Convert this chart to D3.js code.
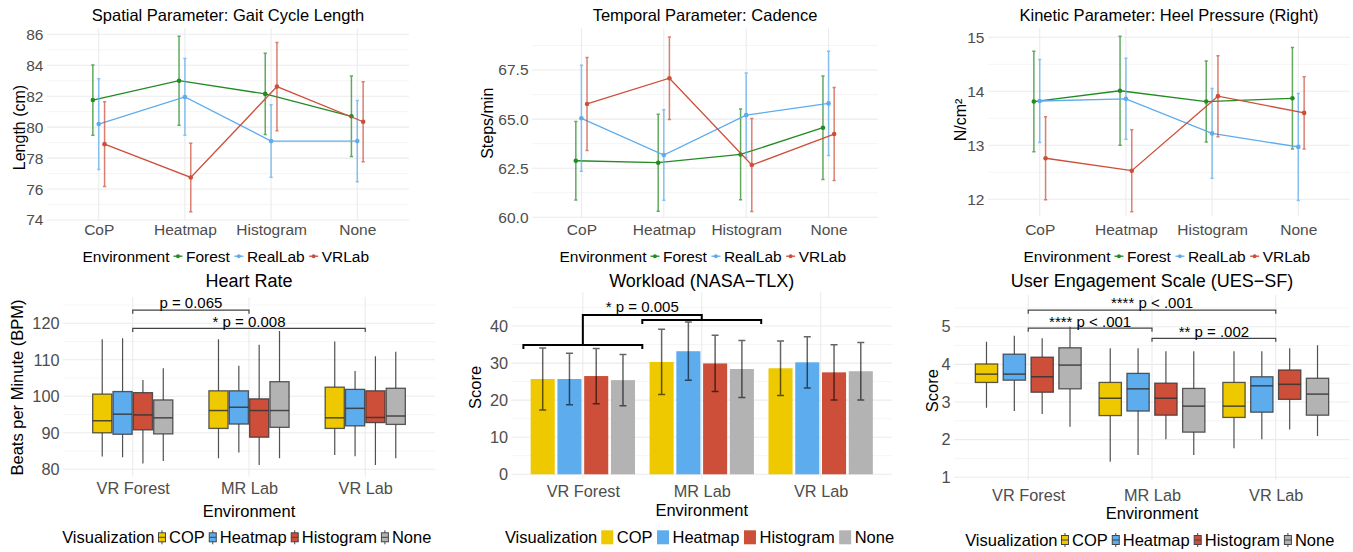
<!DOCTYPE html>
<html>
<head>
<meta charset="utf-8">
<script src="https://cdn.jsdelivr.net/npm/d3@7"></script>
<style>
body { margin: 0; background: #fff; }
svg { font-family: "Liberation Sans", Arial, sans-serif; }
.grid-major { stroke: #ebebeb; stroke-width: 1.1; }
.grid-minor { stroke: #f3f3f3; stroke-width: 0.8; }
</style>
</head>
<body>
<svg id="chart" width="1353" height="552"></svg>
<script>
// ---- top row: means and error half-widths per environment ----
var visCats = ["CoP", "Heatmap", "Histogram", "None"];
var envNames = ["Forest", "RealLab", "VRLab"];

var gaitForest = [81.75, 83.0, 82.15, 80.7];
var gaitForestErr = [2.27, 2.88, 2.62, 2.6];
var gaitRealLab = [80.2, 81.95, 79.1, 79.1];
var gaitRealLabErr = [2.93, 2.48, 2.34, 2.63];
var gaitVRLab = [78.9, 76.75, 82.62, 80.35];
var gaitVRLabErr = [2.74, 2.21, 2.85, 2.58];
var gaitTicks = [74, 76, 78, 80, 82, 84, 86];

var cadForest = [62.88, 62.78, 63.2, 64.56];
var cadForestErr = [2.0, 2.47, 2.31, 2.63];
var cadRealLab = [65.04, 63.17, 65.2, 65.8];
var cadRealLabErr = [2.7, 2.3, 2.15, 2.65];
var cadVRLab = [65.77, 67.08, 62.66, 64.24];
var cadVRLabErr = [2.37, 2.1, 2.37, 2.37];
var cadTicks = [60, 62.5, 65, 67.5];

var heelForest = [13.81, 14.01, 13.81, 13.87];
var heelForestErr = [0.93, 1.01, 0.75, 0.94];
var heelRealLab = [13.82, 13.86, 13.22, 12.97];
var heelRealLabErr = [0.77, 0.75, 0.83, 0.99];
var heelVRLab = [12.76, 12.53, 13.91, 13.6];
var heelVRLabErr = [0.77, 0.76, 0.75, 0.67];
var heelTicks = [12, 13, 14, 15];

// ---- bottom row ----
var envCats = ["VR Forest", "MR Lab", "VR Lab"];
var vizNames = ["COP", "Heatmap", "Histogram", "None"];

// boxes: [lower whisker, q1, median, q3, upper whisker] for each environment
var hrCOP = [[83.5, 90.0, 93.3, 100.6, 115.6], [83.0, 91.2, 96.1, 101.5, 115.6], [83.9, 91.2, 94.1, 102.5, 115.0]];
var hrHeatmap = [[83.3, 89.6, 95.1, 101.3, 115.9], [84.6, 92.4, 97.0, 101.5, 108.4], [83.6, 91.9, 96.7, 101.9, 106.9]];
var hrHistogram = [[81.6, 90.8, 94.9, 101.0, 104.5], [81.2, 88.8, 96.1, 99.3, 114.1], [81.2, 92.8, 94.2, 101.5, 111.0]];
var hrNone = [[82.3, 89.7, 94.1, 99.0, 107.7], [83.0, 91.5, 96.1, 104.0, 117.9], [83.0, 92.3, 94.6, 102.2, 112.2]];
var hrTicks = [80, 90, 100, 110, 120];
var hrSigLabels = ["p = 0.065", "* p = 0.008"];
var hrSigFrom = ["VR Forest", "VR Forest"];
var hrSigTo = ["MR Lab", "VR Lab"];
var hrSigLevel = [123.6, 118.6];

var wlCOP = [25.7, 30.3, 28.6];
var wlCOPErr = [8.35, 8.8, 7.35];
var wlHeatmap = [25.7, 33.2, 30.2];
var wlHeatmapErr = [6.95, 7.85, 6.9];
var wlHistogram = [26.5, 29.9, 27.5];
var wlHistogramErr = [7.45, 7.6, 7.45];
var wlNone = [25.4, 28.4, 27.8];
var wlNoneErr = [6.9, 7.7, 7.75];
var wlTicks = [0, 10, 20, 30, 40];
var wlSigLabel = "* p = 0.005";
var wlSigLevels = [34.85, 41.6, 43.0]; // left group, right group, connector

var uesCOP = [[2.85, 3.52, 3.74, 4.01, 4.60], [1.41, 2.64, 3.10, 3.52, 4.43], [1.77, 2.59, 2.89, 3.52, 4.35]];
var uesHeatmap = [[2.76, 3.58, 3.74, 4.27, 4.76], [1.59, 2.76, 3.35, 3.76, 4.43], [2.01, 2.73, 3.43, 3.67, 4.35]];
var uesHistogram = [[2.68, 3.26, 3.67, 4.19, 4.69], [2.01, 2.65, 3.10, 3.50, 4.35], [2.27, 3.07, 3.47, 3.85, 4.43]];
var uesNone = [[2.34, 3.35, 3.98, 4.44, 5.0], [1.59, 2.20, 2.89, 3.36, 4.35], [2.10, 2.65, 3.21, 3.63, 4.51]];
var uesTicks = [1, 2, 3, 4, 5];
var uesSigLabels = ["**** p < .001", "**** p < .001", "** p = .002"];
var uesSigFrom = ["VR Forest", "VR Forest", "MR Lab"];
var uesSigTo = ["VR Lab", "MR Lab", "VR Lab"];
var uesSigLevel = [5.44, 4.96, 4.69];

// styles
var envColors = {Forest: "#228B22", RealLab: "#5CACEE", VRLab: "#CD4F39"};
var vizColors = {COP: "#EEC900", Heatmap: "#5CACEE", Histogram: "#CD4F39", None: "#B3B3B3"};

var svg = d3.select("#chart");

function midTicks(ticks) {
    var out = [];
    for (var i = 0; i < ticks.length - 1; i++) out.push((ticks[i] + ticks[i + 1]) / 2);
    return out;
}

function drawGrid(g, p, xs, ys) {
    var minor = midTicks(p.ticks);
    if (p.extraMinor) minor = minor.concat(p.extraMinor);
    g.selectAll(null).data(minor).enter().append("line")
        .attr("class", "grid-minor")
        .attr("x1", p.x0).attr("x2", p.x1)
        .attr("y1", function (d) { return ys(d); }).attr("y2", function (d) { return ys(d); });
    g.selectAll(null).data(p.ticks).enter().append("line")
        .attr("class", "grid-major")
        .attr("x1", p.x0).attr("x2", p.x1)
        .attr("y1", function (d) { return ys(d); }).attr("y2", function (d) { return ys(d); });
    g.selectAll(null).data(xs.domain()).enter().append("line")
        .attr("class", "grid-major")
        .attr("x1", function (d) { return xs(d); }).attr("x2", function (d) { return xs(d); })
        .attr("y1", ys(p.lim[0])).attr("y2", ys(p.lim[1]));
}

function drawAxes(g, p, xs, ys, fs) {
    var ya = g.append("g").attr("transform", "translate(" + p.x0 + ",0)")
        .call(d3.axisLeft(ys).tickValues(p.ticks).tickSize(0).tickPadding(3.5).tickFormat(p.fmt || d3.format("")));
    ya.select(".domain").remove();
    ya.attr("font-family", null).attr("font-size", null);
    ya.selectAll("text").style("font-size", fs + "px").attr("fill", "#4d4d4d");

    var xa = g.append("g").attr("transform", "translate(0," + p.xLabelY + ")")
        .call(d3.axisBottom(xs).tickSize(0));
    xa.select(".domain").remove();
    xa.attr("font-family", null).attr("font-size", null);
    xa.selectAll("text").attr("y", 0).attr("dy", null)
        .style("font-size", fs + "px").attr("fill", "#4d4d4d");
}

function drawTitles(g, p, cx, titleFs, axisFs) {
    g.append("text").attr("x", cx).attr("y", p.titleY).attr("text-anchor", "middle")
        .style("font-size", titleFs + "px").text(p.title);
    g.append("text").attr("text-anchor", "middle")
        .attr("transform", "translate(" + p.yTitleX + "," + p.yTitleY + ") rotate(-90)")
        .style("font-size", axisFs + "px").text(p.yTitle);
    if (p.xTitle) {
        g.append("text").attr("x", cx).attr("y", p.xTitleY).attr("text-anchor", "middle")
            .style("font-size", axisFs + "px").text(p.xTitle);
    }
}

function drawLegend(g, cx, baseline, fs, title, names, keyW, keyFn) {
    var lg = g.append("g");
    var t = lg.append("text").attr("x", 0).attr("y", baseline).style("font-size", fs + "px").text(title);
    var x = t.node().getComputedTextLength() + 4;
    names.forEach(function (n) {
        keyFn(lg, x, baseline, n);
        x += keyW + 3.5;
        var lt = lg.append("text").attr("x", x).attr("y", baseline).style("font-size", fs + "px").text(n);
        x += lt.node().getComputedTextLength() + 4.5;
    });
    lg.attr("transform", "translate(" + (cx - x / 2) + ",0)");
}

// ---------- line + error bar panels ----------
function linePanel(p, series) {
    var g = svg.append("g");
    var xs = d3.scalePoint().domain(visCats).range([p.x0, p.x1]).padding(0.6);
    var ys = d3.scaleLinear().domain(p.tickDomain).range(p.tickRange);
    drawGrid(g, p, xs, ys);
    drawAxes(g, p, xs, ys, 15.5);
    var cx = (p.x0 + p.x1) / 2;
    drawTitles(g, p, cx, 16.5, 16);

    var dodge = xs.step() * 0.068;
    series.forEach(function (s, si) {
        var off = (si - 1) * dodge;
        var pts = visCats.map(function (c, i) { return {x: xs(c) + off, m: s.mean[i], e: s.err[i]}; });
        var col = envColors[s.name];
        var sg = g.append("g");
        sg.selectAll(null).data(pts).enter().append("path")
            .attr("d", function (d) {
                var y1 = ys(d.m + d.e), y2 = ys(d.m - d.e);
                return "M" + d.x + "," + y1 + "V" + y2 +
                    "M" + (d.x - 1.6) + "," + y1 + "h3.2M" + (d.x - 1.6) + "," + y2 + "h3.2";
            })
            .attr("stroke", col).attr("stroke-width", 1.5).attr("stroke-opacity", 0.72).attr("fill", "none");
        sg.append("path").datum(pts)
            .attr("d", d3.line().x(function (d) { return d.x; }).y(function (d) { return ys(d.m); }))
            .attr("stroke", col).attr("stroke-width", 1.3).attr("fill", "none");
        sg.selectAll(null).data(pts).enter().append("circle")
            .attr("cx", function (d) { return d.x; }).attr("cy", function (d) { return ys(d.m); })
            .attr("r", 2.3).attr("fill", col);
    });

    drawLegend(g, cx, p.legendY, 15.5, "Environment", envNames, 9, function (lg, x, b, n) {
        lg.append("line").attr("x1", x).attr("x2", x + 9).attr("y1", b - 5.5).attr("y2", b - 5.5)
            .attr("stroke", envColors[n]).attr("stroke-width", 1.3);
        lg.append("circle").attr("cx", x + 4.5).attr("cy", b - 5.5).attr("r", 2).attr("fill", envColors[n]);
    });
}

// ---------- box plot panels ----------
function sigBrackets(g, xs, ys, labels, from, to, level) {
    labels.forEach(function (lab, i) {
        var x1 = xs(from[i]), x2 = xs(to[i]), y = ys(level[i]);
        g.append("path").attr("d", "M" + x1 + "," + (y + 3.5) + "V" + y + "H" + x2 + "V" + (y + 3.5))
            .attr("stroke", "#444").attr("stroke-width", 1.2).attr("fill", "none");
        g.append("text").attr("x", (x1 + x2) / 2).attr("y", y - 1.7).attr("text-anchor", "middle")
            .style("font-size", "15px").text(lab);
    });
}

function boxKey(lg, x, b, n) {
    var cy = b - 6;
    lg.append("line").attr("x1", x + 3.5).attr("x2", x + 3.5).attr("y1", cy - 7).attr("y2", cy + 7)
        .attr("stroke", "#444").attr("stroke-width", 1);
    lg.append("rect").attr("x", x).attr("y", cy - 4.5).attr("width", 7).attr("height", 9)
        .attr("fill", vizColors[n]).attr("stroke", "#444").attr("stroke-width", 1);
    lg.append("line").attr("x1", x).attr("x2", x + 7).attr("y1", cy).attr("y2", cy)
        .attr("stroke", "#444").attr("stroke-width", 1);
}

function boxPanel(p, boxes) {
    var g = svg.append("g");
    var xs = d3.scalePoint().domain(envCats).range([p.x0, p.x1]).padding(0.6);
    var ys = d3.scaleLinear().domain(p.tickDomain).range(p.tickRange);
    drawGrid(g, p, xs, ys);
    drawAxes(g, p, xs, ys, 16.3);
    var cx = (p.x0 + p.x1) / 2;
    drawTitles(g, p, cx, 18, 16.5);

    var tot = xs.step() * p.dodge;
    var inner = d3.scaleBand().domain(vizNames).range([-tot / 2, tot / 2])
        .paddingInner(1 - p.boxFrac).paddingOuter((1 - p.boxFrac) / 2);
    var bw = inner.bandwidth();

    vizNames.forEach(function (v, vi) {
        var bg = g.append("g");
        var data = envCats.map(function (e, i) {
            var b = boxes[vi][i];
            return {x: xs(e) + inner(v), lo: b[0], q1: b[1], med: b[2], q3: b[3], hi: b[4]};
        });
        bg.selectAll(null).data(data).enter().append("path")
            .attr("d", function (d) {
                var mx = d.x + bw / 2;
                return "M" + mx + "," + ys(d.hi) + "V" + ys(d.q3) + "M" + mx + "," + ys(d.q1) + "V" + ys(d.lo);
            })
            .attr("stroke", "#333").attr("stroke-opacity", 0.85).attr("stroke-width", 1.2);
        bg.selectAll(null).data(data).enter().append("rect")
            .attr("x", function (d) { return d.x; }).attr("width", bw)
            .attr("y", function (d) { return ys(d.q3); })
            .attr("height", function (d) { return ys(d.q1) - ys(d.q3); })
            .attr("fill", vizColors[v]).attr("stroke", "#333").attr("stroke-opacity", 0.8).attr("stroke-width", 1.3);
        bg.selectAll(null).data(data).enter().append("line")
            .attr("x1", function (d) { return d.x; }).attr("x2", function (d) { return d.x + bw; })
            .attr("y1", function (d) { return ys(d.med); }).attr("y2", function (d) { return ys(d.med); })
            .attr("stroke", "#333").attr("stroke-opacity", 0.85).attr("stroke-width", 1.5);
    });

    sigBrackets(g, xs, ys, p.sigLabels, p.sigFrom, p.sigTo, p.sigLevel);
    drawLegend(g, cx, p.legendY, 16.5, "Visualization", vizNames, 7, boxKey);
}

// ---------- bar panel ----------
function barPanel(p, means, errs) {
    var g = svg.append("g");
    var xs = d3.scalePoint().domain(envCats).range([p.x0, p.x1]).padding(0.6);
    var ys = d3.scaleLinear().domain(p.tickDomain).range(p.tickRange);
    drawGrid(g, p, xs, ys);
    drawAxes(g, p, xs, ys, 16.3);
    var cx = (p.x0 + p.x1) / 2;
    drawTitles(g, p, cx, 18, 16.5);

    var tot = xs.step() * 0.9;
    var inner = d3.scaleBand().domain(vizNames).range([-tot / 2, tot / 2]).paddingInner(0.1).paddingOuter(0.05);
    var bw = inner.bandwidth();

    vizNames.forEach(function (v, vi) {
        var data = envCats.map(function (e, i) { return {x: xs(e) + inner(v), m: means[vi][i], e: errs[vi][i]}; });
        g.selectAll(null).data(data).enter().append("rect")
            .attr("x", function (d) { return d.x; }).attr("width", bw)
            .attr("y", function (d) { return ys(d.m); })
            .attr("height", function (d) { return ys(0) - ys(d.m); })
            .attr("fill", vizColors[v]);
    });
    vizNames.forEach(function (v, vi) {
        var data = envCats.map(function (e, i) { return {x: xs(e) + inner(v) + bw / 2, m: means[vi][i], e: errs[vi][i]}; });
        g.selectAll(null).data(data).enter().append("path")
            .attr("d", function (d) {
                var y1 = ys(d.m + d.e), y2 = ys(d.m - d.e);
                return "M" + d.x + "," + y1 + "V" + y2 +
                    "M" + (d.x - 3.5) + "," + y1 + "h7M" + (d.x - 3.5) + "," + y2 + "h7";
            })
            .attr("stroke", "#000").attr("stroke-opacity", 0.6).attr("stroke-width", 1.5).attr("fill", "none");
    });

    // grouped bracket between VR Forest and MR Lab
    var half = xs.step() / 2;
    var a = xs(envCats[0]), b = xs(envCats[1]);
    var yL = ys(wlSigLevels[0]), yR = ys(wlSigLevels[1]), yT = ys(wlSigLevels[2]);
    var br = "M" + (a - half) + "," + (yL + 4) + "V" + yL + "H" + (a + half) + "V" + (yL + 4) +
        "M" + (b - half) + "," + (yR + 4) + "V" + yR + "H" + (b + half) + "V" + (yR + 4) +
        "M" + a + "," + yL + "V" + yT + "H" + b + "V" + yR;
    g.append("path").attr("d", br).attr("stroke", "#000").attr("stroke-width", 2).attr("fill", "none");
    g.append("text").attr("x", (a + b) / 2).attr("y", yT - 3.3).attr("text-anchor", "middle")
        .style("font-size", "15px").text(wlSigLabel);

    drawLegend(g, cx, p.legendY, 16.5, "Visualization", vizNames, 12, function (lg, x, bl, n) {
        lg.append("rect").attr("x", x).attr("y", bl - 13).attr("width", 12).attr("height", 14).attr("fill", vizColors[n]);
    });
}

linePanel({
    x0: 47, x1: 409, ticks: gaitTicks, tickDomain: [74, 86], tickRange: [220, 34.3], lim: [73.98, 86.39],
    xLabelY: 235, title: "Spatial Parameter: Gait Cycle Length", titleY: 20.7,
    yTitle: "Length (cm)", yTitleX: 25, yTitleY: 127.5, legendY: 261.7
}, [
    {name: "Forest", mean: gaitForest, err: gaitForestErr},
    {name: "RealLab", mean: gaitRealLab, err: gaitRealLabErr},
    {name: "VRLab", mean: gaitVRLab, err: gaitVRLabErr}
]);

linePanel({
    x0: 532, x1: 878, ticks: cadTicks, tickDomain: [60, 67.5], tickRange: [217.3, 70], lim: [59.95, 69.62],
    extraMinor: [68.75], fmt: d3.format(".1f"),
    xLabelY: 235, title: "Temporal Parameter: Cadence", titleY: 20.7,
    yTitle: "Steps/min", yTitleX: 493, yTitleY: 123.3, legendY: 261.7
}, [
    {name: "Forest", mean: cadForest, err: cadForestErr},
    {name: "RealLab", mean: cadRealLab, err: cadRealLabErr},
    {name: "VRLab", mean: cadVRLab, err: cadVRLabErr}
]);

linePanel({
    x0: 988, x1: 1350, ticks: heelTicks, tickDomain: [12, 15], tickRange: [199.3, 37.3], lim: [11.68, 15.17],
    xLabelY: 235, title: "Kinetic Parameter: Heel Pressure (Right)", titleY: 20.7,
    yTitle: "N/cm²", yTitleX: 965.5, yTitleY: 120, legendY: 261.7
}, [
    {name: "Forest", mean: heelForest, err: heelForestErr},
    {name: "RealLab", mean: heelRealLab, err: heelRealLabErr},
    {name: "VRLab", mean: heelVRLab, err: heelVRLabErr}
]);

boxPanel({
    x0: 63, x1: 435, ticks: hrTicks, tickDomain: [80, 120], tickRange: [469.3, 323.3], lim: [78, 127.2],
    extraMinor: [125], dodge: 0.7, boxFrac: 0.94,
    xLabelY: 494, title: "Heart Rate", titleY: 286.7, yTitle: "Beats per Minute (BPM)", yTitleX: 23.3, yTitleY: 387.5,
    xTitle: "Environment", xTitleY: 516.7, legendY: 543.3,
    sigLabels: hrSigLabels, sigFrom: hrSigFrom, sigTo: hrSigTo, sigLevel: hrSigLevel
}, [hrCOP, hrHeatmap, hrHistogram, hrNone]);

barPanel({
    x0: 511.5, x1: 892, ticks: wlTicks, tickDomain: [0, 40], tickRange: [474.3, 326], lim: [-1.1, 49.2],
    extraMinor: [45],
    xLabelY: 496.7, title: "Workload (NASA\u2212TLX)", titleY: 286.7, yTitle: "Score", yTitleX: 481, yTitleY: 387.5,
    xTitle: "Environment", xTitleY: 516, legendY: 543.3
}, [wlCOP, wlHeatmap, wlHistogram, wlNone], [wlCOPErr, wlHeatmapErr, wlHistogramErr, wlNoneErr]);

boxPanel({
    x0: 954, x1: 1350, ticks: uesTicks, tickDomain: [1, 5], tickRange: [477.3, 326.7], lim: [0.93, 5.84],
    extraMinor: [5.5], dodge: 0.9, boxFrac: 0.8,
    xLabelY: 500.7, title: "User Engagement Scale (UES\u2212SF)", titleY: 287, yTitle: "Score", yTitleX: 937.7, yTitleY: 390.7,
    xTitle: "Environment", xTitleY: 519.3, legendY: 546,
    sigLabels: uesSigLabels, sigFrom: uesSigFrom, sigTo: uesSigTo, sigLevel: uesSigLevel
}, [uesCOP, uesHeatmap, uesHistogram, uesNone]);
</script>
</body>
</html>
